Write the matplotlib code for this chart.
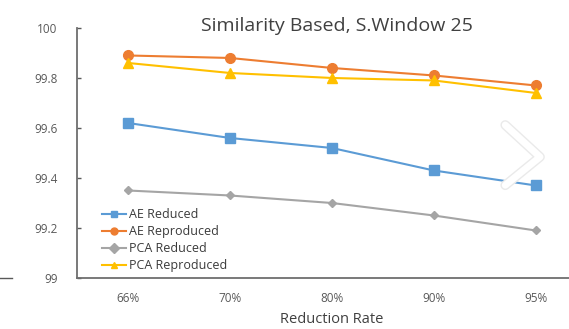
import matplotlib
matplotlib.use("Agg")
import matplotlib.pyplot as plt
import matplotlib.patheffects as pe
from matplotlib.lines import Line2D

categories = ["66%", "70%", "80%", "90%", "95%"]
ae_reduced = [99.62, 99.56, 99.52, 99.43, 99.37]
ae_reproduced = [99.89, 99.88, 99.84, 99.81, 99.77]
pca_reduced = [99.35, 99.33, 99.30, 99.25, 99.19]
pca_reproduced = [99.86, 99.82, 99.80, 99.79, 99.74]
y_ticks = [99, 99.2, 99.4, 99.6, 99.8, 100]
y_tick_labels = ["99", "99.2", "99.4", "99.6", "99.8", "100"]

plt.rcParams["font.family"] = ["Open Sans", "DejaVu Sans"]

fig = plt.figure(figsize=(5.69, 3.29), dpi=100)
ax = fig.add_axes([0.1353, 0.155, 0.896, 0.760])

x = list(range(len(categories)))
series = [
    ("AE Reduced", ae_reduced, "#5B9BD5", "s", 7),
    ("AE Reproduced", ae_reproduced, "#ED7D31", "o", 7),
    ("PCA Reduced", pca_reduced, "#A5A5A5", "D", 4.5),
    ("PCA Reproduced", pca_reproduced, "#FFC000", "^", 7),
]
for name, vals, col, mk, ms in series:
    ax.plot(x, vals, color=col, lw=1.5, marker=mk, ms=ms, label=name,
            markeredgecolor=col)

ax.set_xlim(-0.5, len(categories) - 0.5)
ax.set_ylim(99, 100)
ax.set_yticks(y_ticks)
ax.set_yticklabels(y_tick_labels)
ax.set_xticks(x)
ax.set_xticklabels(categories)
ax.tick_params(axis="x", length=0, pad=10, labelsize=8.5, labelcolor="#595959")
ax.tick_params(axis="y", direction="in", length=3, width=1, color="#595959",
               pad=14, labelsize=8.5, labelcolor="#595959")
for s in ("top", "right"):
    ax.spines[s].set_visible(False)
for s in ("left", "bottom"):
    ax.spines[s].set_color("#6E6E6E")
    ax.spines[s].set_linewidth(1.3)

ax.set_xlabel("Reduction Rate", fontsize=10.5, color="#404040", labelpad=5)
fig.text(0.592, 0.921, "Similarity Based, S.Window 25", ha="center",
         va="center", fontsize=14, color="#404040")

leg = ax.legend(loc="upper left", bbox_to_anchor=(0.04, 0.30), frameon=False,
                fontsize=9, handlelength=1.9, handletextpad=0.25,
                labelspacing=0.32, borderaxespad=0)
for t in leg.get_texts():
    t.set_color("#3A3A3A")
for h in leg.legend_handles:
    h.set_markersize(5)

# light chevron overlay on the right side
fig.add_artist(Line2D([0.888, 0.949, 0.888], [0.620, 0.523, 0.437],
                      transform=fig.transFigure, color="white", lw=5,
                      solid_joinstyle="round", solid_capstyle="round",
                      path_effects=[pe.Stroke(linewidth=7, foreground="#EAEAEA"),
                                    pe.Normal()]))
fig.add_artist(Line2D([0.0, 0.021], [0.155, 0.155], transform=fig.transFigure,
                      color="#595959", lw=1))

fig.savefig("out.png", dpi=100)
